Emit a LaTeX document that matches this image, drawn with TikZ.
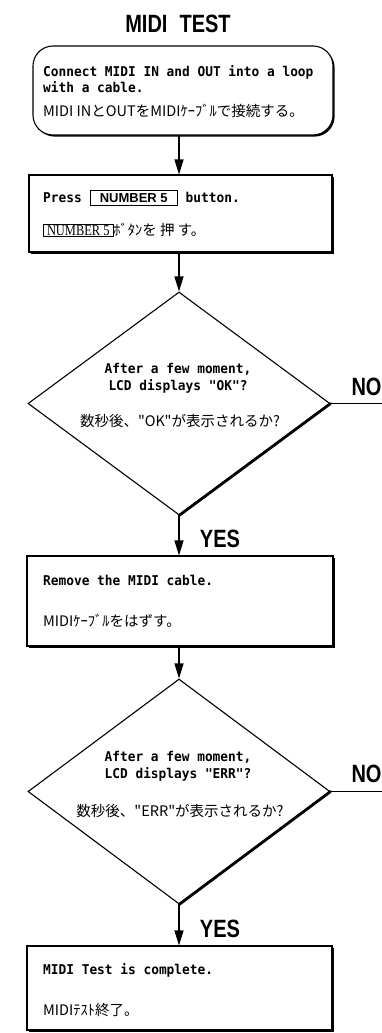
\documentclass[tikz,border=0pt]{standalone}
\usepackage{fontspec}
\usetikzlibrary{arrows.meta,shapes.geometric,shadows}
\newfontfamily\enfont[FakeStretch=0.95]{DejaVu Sans Mono}
\newfontfamily\jpfont{Noto Sans CJK JP}
\newfontfamily\condfont[FakeStretch=0.8]{Liberation Sans}
\newfontfamily\keyfont{Liberation Sans}
\newfontfamily\keyjpfont[FakeStretch=0.83]{Liberation Serif}
\newcommand\keyA[1]{{\setlength\fboxsep{2.5pt}\setlength\fboxrule{0.8pt}\fbox{\hspace{7pt}\keyfont\bfseries\fontsize{13}{14}\selectfont #1\hspace{7pt}}}}
\newcommand\keyB[1]{{\setlength\fboxsep{1pt}\setlength\fboxrule{0.8pt}\fbox{\hspace{2pt}\keyjpfont\fontsize{15}{16}\selectfont #1\hspace{2pt}}}}
\tikzset{
  boxshape/.style={draw, fill=white, line width=1.1pt, inner sep=0pt,
    general shadow={fill=black, shadow xshift=1.6pt, shadow yshift=-1.6pt}},
  diam/.style={diamond, draw, line width=1.1pt, inner sep=0pt, shape aspect=1.35},
  thickedge/.style={line width=2.8pt, line cap=round},
  en/.style={font=\enfont\bfseries\fontsize{13.5}{15}\selectfont, inner sep=0pt, anchor=west},
  enc/.style={font=\enfont\bfseries\fontsize{13.5}{15}\selectfont, inner sep=0pt},
  jp/.style={font=\jpfont\fontsize{14.5}{16}\selectfont, inner sep=0pt, anchor=west},
  jpc/.style={font=\jpfont\fontsize{14.5}{16}\selectfont, inner sep=0pt},
  bigl/.style={font=\condfont\bfseries\fontsize{25}{26}\selectfont, inner sep=0pt},
  arr/.style={line width=1.1pt, -{Triangle[length=15pt,width=9pt]}},
  plainline/.style={line width=1.1pt}
}
\begin{document}
\begin{tikzpicture}[x=1pt,y=-1pt]
\fill[white] (0,0) rectangle (382,1033);
\useasboundingbox (0,0) rectangle (382,1033);

\node[bigl] (title) at (178,24) {MIDI\hspace{12pt}TEST};

% box 1
\node[boxshape, rounded corners=20pt, minimum width=300pt, minimum height=89pt] (b1) at (183,90.5) {};
\node[en] (t1a) at (43,72) {Connect MIDI IN and OUT into a loop};
\node[en] (t1b) at (43,87) {with a cable.};
\node[jp] (t1c) at (43,111) {MIDI INとOUTをMIDIｹｰﾌﾞﾙで接続する。};

% box 2
\node[boxshape, minimum width=303pt, minimum height=77pt] (b2) at (180.5,213.5) {};
\node[en] (t2a) at (43,198) {Press \keyA{NUMBER 5} button.};
\node[jp] (t2b) at (43,230) {\keyB{NUMBER 5}ﾎﾞﾀﾝを 押 す。};

% diamond 1
\node[diam, minimum width=302pt, minimum height=223pt] (d1) at (179,403.5) {};
\draw[thickedge] (d1.east) -- (d1.south);
\node[enc] (t3a) at (178,369) {After a few moment,};
\node[enc] (t3b) at (178,386) {LCD displays "OK"?};
\node[jpc] (t3c) at (180,421) {数秒後、"OK"が表示されるか?};
\node[bigl] (no1) at (366.5,386.5) {NO};
\coordinate (n1) at (382,403.5);
\node[bigl] (yes1) at (220,539) {YES};

% box 3
\node[boxshape, minimum width=306pt, minimum height=90pt] (b3) at (180,601) {};
\node[en] (t4a) at (43,580) {Remove the MIDI cable.};
\node[jp] (t4b) at (43,621) {MIDIｹｰﾌﾞﾙをはずす。};

% diamond 2
\node[diam, minimum width=302pt, minimum height=225pt] (d2) at (179,791.5) {};
\draw[thickedge] (d2.east) -- (d2.south);
\node[enc] (t5a) at (178,757) {After a few moment,};
\node[enc] (t5b) at (178,774) {LCD displays "ERR"?};
\node[jpc] (t5c) at (180,811) {数秒後、"ERR"が表示されるか?};
\node[bigl] (no2) at (366.5,773.5) {NO};
\coordinate (n2) at (382,791.5);
\node[bigl] (yes2) at (220,929) {YES};

% box 4
\node[boxshape, minimum width=305pt, minimum height=84pt] (b4) at (179.5,988) {};
\node[en] (t6a) at (43,970) {MIDI Test is complete.};
\node[jp] (t6b) at (43,1010) {MIDIﾃｽﾄ終了。};

% connectors
\draw[arr] (b1.south -| d1.north) -- (b2.north -| d1.north);
\draw[arr] (b2.south -| d1.north) -- (d1.north);
\draw[arr] (d1.south) -- (b3.north -| d1.south);
\draw[arr] (b3.south -| d2.north) -- (d2.north);
\draw[arr] (d2.south) -- (b4.north -| d2.south);
\draw[plainline] (d1.east) -- (n1);
\draw[plainline] (d2.east) -- (n2);
\end{tikzpicture}
\end{document}
